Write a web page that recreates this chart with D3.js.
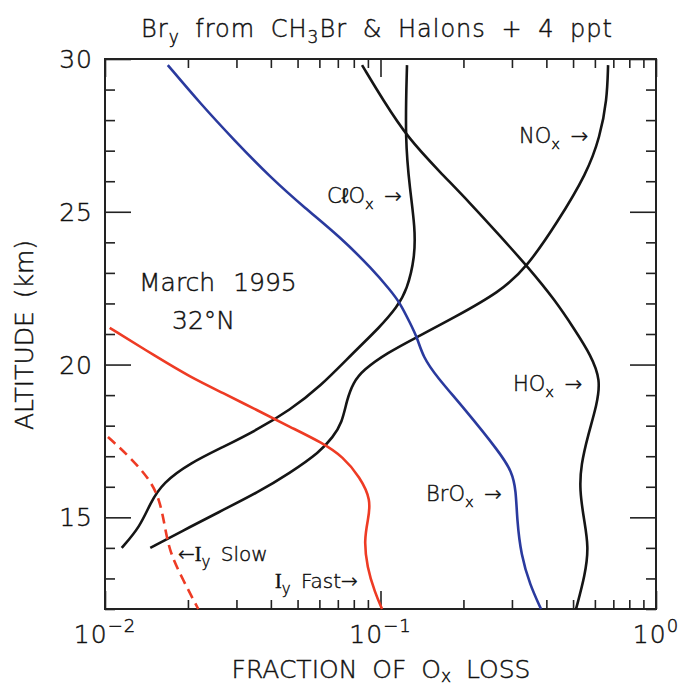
<!DOCTYPE html>
<html>
<head>
<meta charset="utf-8">
<script src="https://cdn.jsdelivr.net/npm/d3@7"></script>
<style>
  body { margin: 0; background: #fff; }
  text { font-family: "DejaVu Sans", sans-serif; font-weight: 200; fill: #111; stroke: #111; stroke-width: 0.45px; }
</style>
</head>
<body>
<div id="chart"></div>
<script>
// altitude (km) and fraction of Ox loss for each family
const brOxAlt = [29.8, 28.56, 27.32, 26.14, 25.12, 24.18, 23.1, 22.44, 22.02, 21.36, 20.9, 20.25, 19.59, 18.61, 17.11, 16.49, 15.9, 14.92, 13.77, 12.79, 12.0];
const brOxVal = [0.0169, 0.0221, 0.0296, 0.0397, 0.0532, 0.0713, 0.0939, 0.1083, 0.1177, 0.128, 0.1357, 0.1426, 0.1603, 0.1993, 0.2716, 0.300, 0.3102, 0.313, 0.3236, 0.3487, 0.3825];

const hOxAlt = [29.8, 28.66, 27.41, 26.3, 25.29, 24.21, 23.19, 22.11, 21.13, 20.31, 19.5, 18.68, 17.7, 16.71, 15.9, 14.92, 14.03, 13.11, 12.0];
const hOxVal = [0.0857, 0.1021, 0.1258, 0.1644, 0.2113, 0.2716, 0.343, 0.43, 0.508, 0.58, 0.63, 0.61, 0.567, 0.534, 0.528, 0.548, 0.57, 0.553, 0.5125];

const clOxAlt = [29.8, 27.35, 25.71, 24.5, 23.52, 22.44, 21.88, 21.23, 20.38, 19.27, 18.51, 17.86, 17.3, 16.78, 16.13, 15.47, 14.69, 14.0];
const clOxVal = [0.1248, 0.1227, 0.128, 0.1334, 0.1334, 0.1248, 0.1148, 0.0996, 0.0795, 0.0603, 0.0469, 0.0356, 0.0268, 0.0204, 0.0162, 0.0146, 0.0134, 0.0115];

const nOxAlt = [29.8, 28.66, 27.45, 26.27, 24.63, 23.19, 22.38, 21.52, 20.9, 20.38, 19.82, 19.4, 18.84, 18.09, 17.63, 17.14, 16.45, 15.8, 15.24, 14.69, 14.0];
const nOxVal = [0.67, 0.664, 0.626, 0.562, 0.437, 0.34, 0.2716, 0.1833, 0.1357, 0.1056, 0.0864, 0.0795, 0.0755, 0.0725, 0.0672, 0.0603, 0.0469, 0.0356, 0.0268, 0.0204, 0.0146];

const iyFastAlt = [21.2, 20.25, 19.59, 19.07, 18.51, 17.96, 17.43, 16.98, 16.32, 15.57, 14.92, 14.26, 13.38, 12.53, 12.0];
const iyFastVal = [0.0104, 0.0154, 0.0204, 0.0268, 0.0356, 0.0469, 0.0618, 0.0731, 0.0842, 0.0925, 0.0901, 0.0872, 0.0893, 0.0955, 0.1013];

const iySlowAlt = [17.63, 16.98, 16.22, 15.57, 14.69, 13.84, 12.95, 12.0];
const iySlowVal = [0.01025, 0.0123, 0.0146, 0.0158, 0.0165, 0.0172, 0.0192, 0.0218];

const xMajor = [0.01, 0.1, 1];
const xMajorExp = ["−2", "−1", "0"];
const yMajor = [15, 20, 25, 30];

const width = 680;
const height = 686;
const margin = { top: 59, left: 105, bottom: 77, right: 24 };
const plotWidth = width - margin.left - margin.right;
const plotHeight = height - margin.top - margin.bottom;

const xScale = d3.scaleLog().domain([0.01, 1]).range([0, plotWidth]);
const yScale = d3.scaleLinear().domain([12, 30]).range([plotHeight, 0]);

const xMinor = [];
[0.01, 0.1].forEach(d => { for (let k = 2; k <= 9; k++) xMinor.push(d * k); });
const yMinor = d3.range(12, 31).filter(v => v % 5 !== 0);

const svg = d3.select("#chart")
  .append("svg")
  .attr("width", width)
  .attr("height", height);

const plotG = svg.append("g")
  .attr("transform", `translate(${margin.left},${margin.top})`);

// ticks, all pointing inward
function tickAxis(axis, values, size, transform) {
  const g = plotG.append("g")
    .attr("transform", transform)
    .call(axis.tickValues(values).tickSize(size).tickFormat(""));
  g.select(".domain").remove();
  g.selectAll("line").attr("stroke", "#222").attr("stroke-width", 1.6);
}
tickAxis(d3.axisBottom(xScale), xMinor, -9, `translate(0,${plotHeight})`);
tickAxis(d3.axisBottom(xScale), xMajor, -18, `translate(0,${plotHeight})`);
tickAxis(d3.axisTop(xScale), xMinor, -9, "translate(0,0)");
tickAxis(d3.axisTop(xScale), xMajor, -18, "translate(0,0)");
tickAxis(d3.axisLeft(yScale), yMinor, -10, "translate(0,0)");
tickAxis(d3.axisLeft(yScale), yMajor, -26, "translate(0,0)");
tickAxis(d3.axisRight(yScale), yMinor, -10, `translate(${plotWidth},0)`);
tickAxis(d3.axisRight(yScale), yMajor, -26, `translate(${plotWidth},0)`);

plotG.append("rect")
  .attr("width", plotWidth)
  .attr("height", plotHeight)
  .attr("fill", "none")
  .attr("stroke", "#222")
  .attr("stroke-width", 2);

// curves
const line = d3.line()
  .x(d => xScale(d[1]))
  .y(d => yScale(d[0]))
  .curve(d3.curveBasis);

const curves = [
  { alt: hOxAlt, val: hOxVal, color: "#151515" },
  { alt: nOxAlt, val: nOxVal, color: "#151515" },
  { alt: clOxAlt, val: clOxVal, color: "#151515" },
  { alt: brOxAlt, val: brOxVal, color: "#2a3a9e" },
  { alt: iyFastAlt, val: iyFastVal, color: "#ee3b24" },
  { alt: iySlowAlt, val: iySlowVal, color: "#ee3b24", dash: "10,6" }
];

plotG.selectAll("path.curve")
  .data(curves)
  .enter()
  .append("path")
  .attr("class", "curve")
  .attr("d", c => line(d3.zip(c.alt, c.val)))
  .attr("fill", "none")
  .attr("stroke", c => c.color)
  .attr("stroke-width", 2.6)
  .attr("stroke-dasharray", c => c.dash || null);

// tick labels
svg.append("g")
  .selectAll("text")
  .data(yMajor)
  .enter()
  .append("text")
  .attr("x", margin.left - 12)
  .attr("y", d => margin.top + yScale(d) + 9)
  .attr("text-anchor", "end")
  .attr("font-size", 25)
  .attr("letter-spacing", 1)
  .text(d => d);

const xLab = svg.append("g")
  .selectAll("text")
  .data(xMajor)
  .enter()
  .append("text")
  .attr("x", d => margin.left + xScale(d))
  .attr("y", 643)
  .attr("text-anchor", "middle")
  .attr("font-size", 25)
  .attr("letter-spacing", 1);
xLab.append("tspan").text("10");
xLab.append("tspan")
  .attr("dy", -11)
  .attr("font-size", 18)
  .text((d, i) => xMajorExp[i]);

// axis titles
const xTitle = svg.append("text")
  .attr("x", 381)
  .attr("y", 678)
  .attr("text-anchor", "middle")
  .attr("font-size", 25)
  .attr("word-spacing", 7);
xTitle.append("tspan").text("FRACTION OF O");
xTitle.append("tspan").attr("font-size", 17).attr("dy", 4).text("x");
xTitle.append("tspan").attr("dy", -4).text(" LOSS");

svg.append("text")
  .attr("transform", "translate(33,335) rotate(-90)")
  .attr("text-anchor", "middle")
  .attr("font-size", 25)
  .attr("word-spacing", 5)
  .text("ALTITUDE (km)");

const title = svg.append("text")
  .attr("x", 377)
  .attr("y", 37)
  .attr("text-anchor", "middle")
  .attr("font-size", 24)
  .attr("letter-spacing", 1)
  .attr("word-spacing", 7);
title.append("tspan").text("Br");
title.append("tspan").attr("font-size", 17).attr("dy", 6).text("y");
title.append("tspan").attr("dy", -6).text(" from CH");
title.append("tspan").attr("font-size", 17).attr("dy", 6).text("3");
title.append("tspan").attr("dy", -6).text("Br & Halons + 4 ppt");

// annotations
svg.append("text").attr("x", 139).attr("y", 291).attr("font-size", 25)
  .attr("word-spacing", 10).text("March 1995");
svg.append("text").attr("x", 172).attr("y", 329).attr("font-size", 25).text("32°N");

function subLabel(x, y, main, sub, after, size) {
  const t = svg.append("text").attr("x", x).attr("y", y)
    .attr("font-size", size).attr("word-spacing", 4);
  t.append("tspan").text(main);
  t.append("tspan").attr("font-size", size * 0.7).attr("dy", 6).text(sub);
  t.append("tspan").attr("dy", -6).text(after);
  return t;
}
subLabel(327, 203, "CℓO", "x", "  →", 21);
subLabel(519, 143, "NO", "x", "  →", 21);
subLabel(513, 391, "HO", "x", "  →", 21);
subLabel(426, 501, "BrO", "x", "  →", 21);

const slow = svg.append("text").attr("x", 178).attr("y", 561)
  .attr("font-size", 20).attr("word-spacing", 4);
slow.append("tspan").text("←");
slow.append("tspan").attr("font-family", "Liberation Serif").attr("font-weight", 400).text("I");
slow.append("tspan").attr("font-size", 15).attr("dy", 6).text("y");
slow.append("tspan").attr("dy", -6).text(" Slow");

const fast = svg.append("text").attr("x", 275).attr("y", 588)
  .attr("font-size", 20).attr("word-spacing", 4);
fast.append("tspan").attr("font-family", "Liberation Serif").attr("font-weight", 400).text("I");
fast.append("tspan").attr("font-size", 15).attr("dy", 6).text("y");
fast.append("tspan").attr("dy", -6).text(" Fast→");
</script>
</body>
</html>
